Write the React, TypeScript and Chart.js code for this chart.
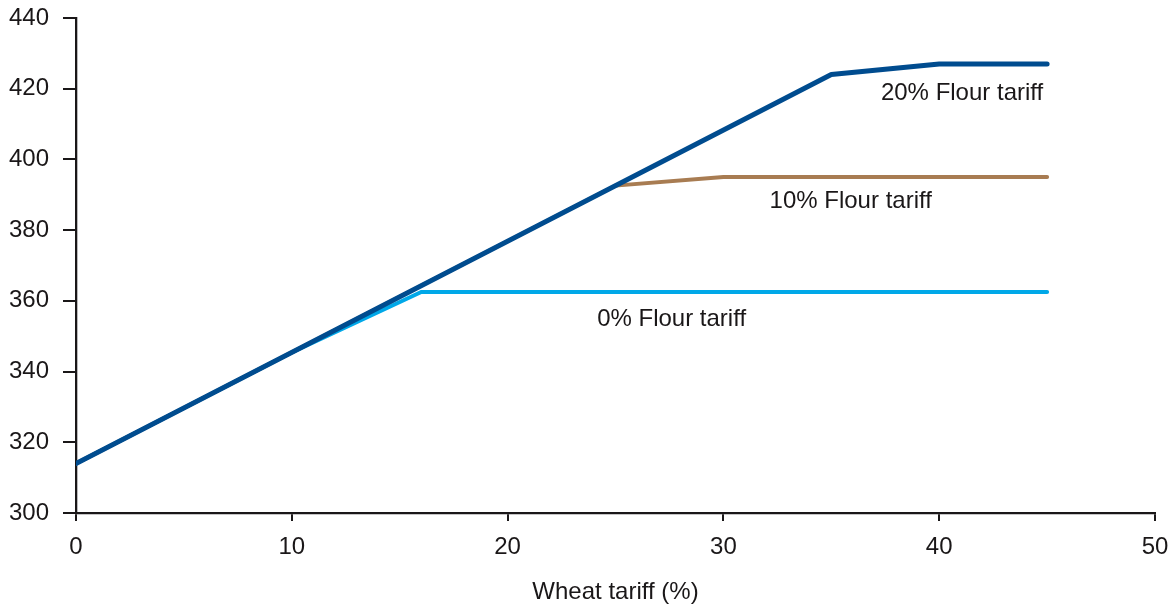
import React, { useEffect, useRef } from "react";
import { Chart, registerables } from "chart.js";

Chart.register(...registerables);

const xTicks = [0, 10, 20, 30, 40, 50];
const yTicks = [300, 320, 340, 360, 380, 400, 420, 440];

const tariff20X = [0, 35, 40, 45];
const tariff20Y = [314, 424, 427, 427];
const tariff10X = [0, 25, 30, 45];
const tariff10Y = [314, 392.6, 395, 395];
const tariff0X = [0, 10, 16, 45];
const tariff0Y = [314, 345.4, 362.5, 362.5];

const labelTexts = ["20% Flour tariff", "10% Flour tariff", "0% Flour tariff"];
const labelX = [41.06, 35.9, 27.6];
const labelY = [418.8, 388.2, 354.9];

const xTitle = "Wheat tariff (%)";

const FONT = "Liberation Sans, Arial, Helvetica, sans-serif";
const TEXT = "#1a1718";
const FS = 24;

const toPoints = (xs: number[], ys: number[]) => xs.map((x, i) => ({ x, y: ys[i] }));

const labelPlugin = {
  id: "lineLabels",
  afterDatasetsDraw(chart: any) {
    const { ctx, scales } = chart;
    ctx.save();
    ctx.font = `${FS}px ${FONT}`;
    ctx.fillStyle = TEXT;
    ctx.textAlign = "center";
    ctx.textBaseline = "middle";
    labelTexts.forEach((t, i) => {
      ctx.fillText(t, scales.x.getPixelForValue(labelX[i]), scales.y.getPixelForValue(labelY[i]));
    });
    ctx.restore();
  },
};

export default function App() {
  const ref = useRef<HTMLCanvasElement>(null);
  useEffect(() => {
    if (!ref.current) return;
    const chart = new Chart(ref.current, {
      type: "line",
      data: {
        datasets: [
          {
            label: "20% Flour tariff",
            data: toPoints(tariff20X, tariff20Y),
            borderColor: "#004c8f",
            borderWidth: 5,
            pointRadius: 0,
            borderCapStyle: "round",
            borderJoinStyle: "round",
            tension: 0,
          },
          {
            label: "10% Flour tariff",
            data: toPoints(tariff10X, tariff10Y),
            borderColor: "#a87c52",
            borderWidth: 4,
            pointRadius: 0,
            borderCapStyle: "round",
            tension: 0,
          },
          {
            label: "0% Flour tariff",
            data: toPoints(tariff0X, tariff0Y),
            borderColor: "#00a8e8",
            borderWidth: 4,
            pointRadius: 0,
            borderCapStyle: "round",
            tension: 0,
          },
        ],
      },
      options: {
        animation: false,
        responsive: true,
        maintainAspectRatio: false,
        layout: { padding: { top: 18, right: 18, left: 0, bottom: 0 } },
        plugins: { legend: { display: false }, tooltip: { enabled: false } },
        scales: {
          x: {
            type: "linear",
            min: 0,
            max: 50,
            afterBuildTicks: (s: any) => {
              s.ticks = xTicks.map((v) => ({ value: v }));
            },
            afterFit: (s: any) => {
              s.height = 94;
              s.paddingLeft = 0;
              s.paddingRight = 0;
            },
            grid: { display: true, drawOnChartArea: false, drawTicks: true, tickLength: 8, color: TEXT, lineWidth: 2 },
            border: { display: true, color: TEXT, width: 2.3 },
            ticks: { color: TEXT, font: { family: FONT, size: FS }, padding: 12, maxRotation: 0 },
            title: { display: true, text: xTitle, color: TEXT, font: { family: FONT, size: FS }, padding: 0 },
          },
          y: {
            type: "linear",
            min: 300,
            max: 440,
            afterBuildTicks: (s: any) => {
              s.ticks = yTicks.map((v) => ({ value: v }));
            },
            afterFit: (s: any) => {
              s.width = 76;
              s.paddingTop = 0;
              s.paddingBottom = 0;
            },
            grid: { display: true, drawOnChartArea: false, drawTicks: true, tickLength: 13, color: TEXT, lineWidth: 2 },
            border: { display: true, color: TEXT, width: 2.3 },
            ticks: { color: TEXT, font: { family: FONT, size: FS }, padding: 14 },
          },
        },
      },
      plugins: [labelPlugin],
    } as any);
    return () => chart.destroy();
  }, []);
  return (
    <div style={{ position: "absolute", left: 0, top: 0, width: 1173, height: 607, background: "#fff" }}>
      <canvas ref={ref} />
    </div>
  );
}
